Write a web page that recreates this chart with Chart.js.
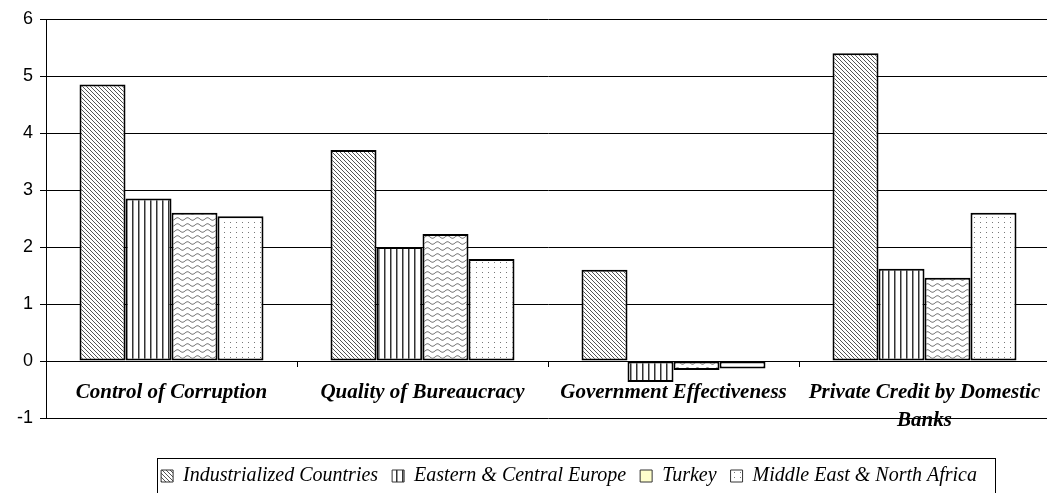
<!DOCTYPE html>
<html>
<head>
<meta charset="utf-8">
<script src="https://cdn.jsdelivr.net/npm/chart.js@4.4.0/dist/chart.umd.min.js"></script>
<style>
  html, body { margin: 0; padding: 0; overflow: hidden; background: #fff; }
</style>
</head>
<body>
<canvas id="barCanvas" width="1060" height="510"></canvas>
<script>
const categories = ['Control of Corruption', 'Quality of Bureaucracy', 'Government Effectiveness', ['Private Credit by Domestic', 'Banks']];
const seriesNames = ['Industrialized Countries', 'Eastern & Central Europe', 'Turkey', 'Middle East & North Africa'];
const industrialized = [4.85, 3.7, 1.6, 5.4];
const easternEurope = [2.85, 2.0, -0.37, 1.62];
const turkey = [2.6, 2.23, -0.16, 1.46];
const mena = [2.54, 1.79, -0.13, 2.6];
const yMin = -1, yMax = 6;

Chart.defaults.color = '#000';

// hatch fills
function makePattern(w, h, draw) {
    const c = document.createElement('canvas');
    c.width = w; c.height = h;
    const g = c.getContext('2d');
    g.fillStyle = '#fff';
    g.fillRect(0, 0, w, h);
    draw(g);
    return g.createPattern(c, 'repeat');
}
const diagonal = makePattern(4, 4, g => {
    g.fillStyle = '#555';
    for (let i = 0; i < 4; i++) g.fillRect(i, i, 1, 1);
});
const vertical = makePattern(6, 6, g => {
    g.fillStyle = '#333';
    g.fillRect(0, 0, 1, 6);
    g.fillStyle = '#999';
    g.fillRect(1, 0, 1, 6);
});
const wave = makePattern(10, 6, g => {
    g.strokeStyle = '#777';
    g.lineWidth = 1;
    g.beginPath();
    for (let x = 0; x <= 10; x++) {
        const y = 3 + 1.3 * Math.sin(x / 10 * 2 * Math.PI);
        if (x === 0) g.moveTo(x, y); else g.lineTo(x, y);
    }
    g.stroke();
});
const dots = makePattern(6, 5, g => {
    g.fillStyle = '#777';
    g.fillRect(2, 2, 1, 1);
});

const legendFont = 20, legendPad = 14;
const plotBottom = 418, canvasH = 510;

// legend moved to where the reference has it, with a frame round it
const legendBox = {
    id: 'legendBox',
    afterLayout(chart) {
        const lg = chart.legend;
        const content = lg.lineWidths[0] - legendPad;
        const dx = 977 - ((lg.left + lg.right) / 2 + content / 2);
        const dy = 476 - (lg.top + legendPad + legendFont / 2);
        lg.left += dx; lg.right += dx;
        lg.top += dy; lg.bottom += dy;
    },
    afterDraw(chart) {
        const lg = chart.legend;
        const content = lg.lineWidths[0] - legendPad;
        const cx = (lg.left + lg.right) / 2;
        const ctx = chart.ctx;
        ctx.save();
        ctx.strokeStyle = '#000';
        ctx.lineWidth = 1;
        const x0 = Math.round(cx - content / 2 - 4) + 0.5;
        ctx.strokeRect(x0, 458.5, 995.5 - x0, 60);
        ctx.restore();
    }
};

const barCanvas = document.getElementById('barCanvas');

const barChart = new Chart(barCanvas, {
    type: 'bar',
    data: {
        labels: categories,
        datasets: [
            { label: seriesNames[0], data: industrialized, backgroundColor: diagonal },
            { label: seriesNames[1], data: easternEurope, backgroundColor: vertical },
            { label: seriesNames[2], data: turkey, backgroundColor: wave },
            { label: seriesNames[3], data: mena, backgroundColor: dots }
        ]
    },
    options: {
        responsive: false,
        animation: false,
        devicePixelRatio: 1,
        layout: { padding: { left: 0, right: 10, top: 19, bottom: canvasH - plotBottom - (legendFont + legendPad + 10) } },
        datasets: {
            bar: {
                borderColor: '#000',
                borderWidth: 2,
                borderSkipped: false,
                categoryPercentage: 0.733,
                barPercentage: 1
            }
        },
        scales: {
            x: {
                position: { y: 0 },
                grid: { drawOnChartArea: false, drawTicks: true, tickLength: 6, color: '#000' },
                border: { display: false },
                ticks: {
                    autoSkip: false,
                    maxRotation: 0,
                    padding: 12,
                    font: { family: 'Liberation Serif', size: 21, style: 'italic', weight: 'bold', lineHeight: 1.33 }
                }
            },
            y: {
                min: yMin,
                max: yMax,
                afterFit(scale) { scale.width = 46; },
                grid: { color: '#000', lineWidth: 1, tickLength: 6 },
                border: { color: '#000', width: 1 },
                ticks: {
                    stepSize: 1,
                    padding: 7,
                    font: { family: 'Liberation Sans', size: 18 }
                }
            }
        },
        plugins: {
            tooltip: { enabled: false },
            legend: {
                position: 'bottom',
                labels: {
                    boxWidth: 12,
                    boxHeight: 12,
                    padding: legendPad,
                    font: { family: 'Liberation Serif', size: legendFont, style: 'italic' },
                    generateLabels(chart) {
                        const items = Chart.defaults.plugins.legend.labels.generateLabels(chart);
                        items.forEach((it, i) => {
                            it.lineWidth = 1;
                            it.strokeStyle = '#333';
                            if (i === 2) it.fillStyle = '#FFFFCC';
                        });
                        return items;
                    }
                }
            }
        }
    },
    plugins: [legendBox]
});
</script>
</body>
</html>
